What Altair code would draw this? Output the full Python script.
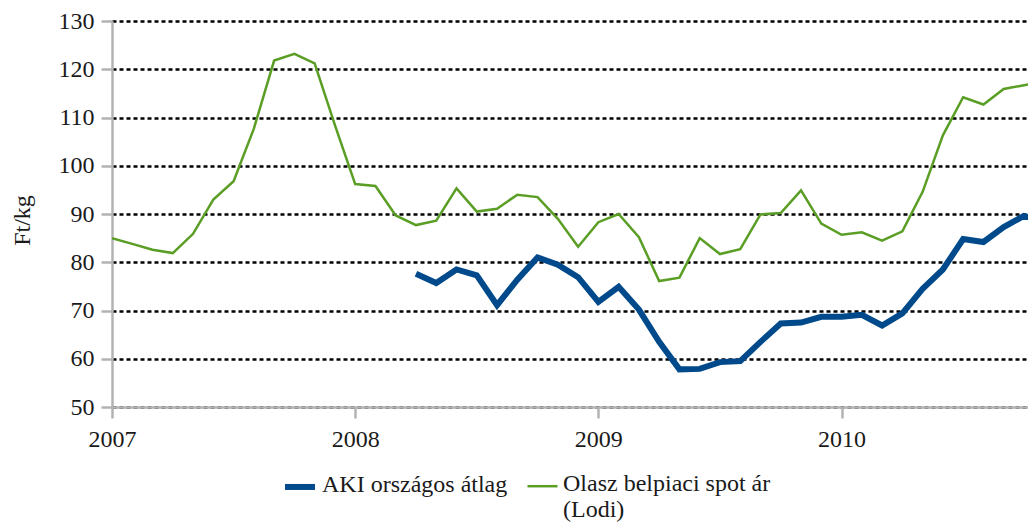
import altair as alt
import pandas as pd

# month index 0 = 2007-01
green_start = 0
green_values = [85.0, 83.8, 82.6, 81.9, 85.9, 93.0, 96.8, 107.7, 121.8, 123.2, 121.2, 108.4,
                96.2, 95.8, 89.7, 87.7, 88.6, 95.3, 90.5, 91.1, 94.0, 93.5, 89.0, 83.2,
                88.3, 90.0, 85.2, 76.1, 76.8, 85.0, 81.7, 82.7, 89.9, 90.2, 94.9, 88.0,
                85.7, 86.2, 84.5, 86.4, 94.6, 106.3, 114.2, 112.7, 115.9, 116.7, 117.3]
blue_start = 15
blue_values = [77.6, 75.7, 78.5, 77.3, 71.1, 76.4, 81.0, 79.5, 76.9,
               71.8, 74.9, 70.2, 63.5, 57.8, 57.9, 59.3, 59.5, 63.5, 67.3, 67.5, 68.7,
               68.7, 69.1, 66.9, 69.4, 74.5, 78.5, 84.8, 84.2, 87.3, 89.6, 88.5]

series_names = ["AKI országos átlag", "Olasz belpiaci spot ár (Lodi)"]
series_colors = ["#004a8b", "#5a9e25"]
series_widths = [6, 2.5]
year_ticks = [0, 12, 24, 36]
y_ticks = [50, 60, 70, 80, 90, 100, 110, 120, 130]

rows = []
for i, v in enumerate(blue_values):
    rows.append({"m": blue_start + i, "v": v, "s": series_names[0]})
for i, v in enumerate(green_values):
    rows.append({"m": green_start + i, "v": v, "s": series_names[1]})
df = pd.DataFrame(rows)

FONT = "Liberation Serif"
TXT = "#1a1a1a"

label_expr = ("datum.label == 'Olasz belpiaci spot ár (Lodi)' "
              "? ['Olasz belpiaci spot ár', '(Lodi)'] : [datum.label, ' ']")

chart = alt.Chart(df).mark_line(clip=True, strokeJoin="miter").encode(
    x=alt.X("m:Q", scale=alt.Scale(domain=[0, 45.2], nice=False, zero=False),
            axis=alt.Axis(values=year_ticks, labelExpr="toString(2007 + datum.value/12)",
                          title=None, grid=False, labelPadding=9, labelFlush=False,
                          labelOverlap=False, labelFont=FONT, labelFontSize=24,
                          labelColor=TXT)),
    y=alt.Y("v:Q", scale=alt.Scale(domain=[50, 130], nice=False, zero=False),
            axis=alt.Axis(values=y_ticks, title="Ft/kg", grid=True, labelPadding=7,
                          labelFont=FONT, labelFontSize=24, labelColor=TXT,
                          titleFont=FONT, titleFontSize=24, titleColor=TXT,
                          titleFontWeight="normal",
                          titleX=-90, titleY=199, titleAngle=270, titleBaseline="middle",
                          titleAlign="center")),
    color=alt.Color("s:N", scale=alt.Scale(domain=series_names, range=series_colors),
                    title=None,
                    legend=alt.Legend(orient="none", legendX=170, legendY=434,
                                      direction="horizontal",
                                      symbolType="M-1,0.93L1,0.93",
                                      symbolSize=900, labelFontSize=24, labelFont=FONT,
                                      labelColor=TXT, columnPadding=14,
                                      labelOffset=4, labelLimit=400,
                                      labelBaseline="top",
                                      labelExpr=label_expr)),
    strokeWidth=alt.StrokeWidth("s:N", scale=alt.Scale(domain=series_names, range=series_widths),
                                title=None),
    order="m:Q",
).properties(
    width=916, height=386,
    autosize=alt.AutoSizeParams(type="none"),
    padding={"left": 104, "top": 13, "right": 0, "bottom": 118},
).configure_view(stroke=None).configure_axis(
    domainColor="#b3b3b3", domainWidth=2.5, tickColor="#b3b3b3", tickWidth=2.5, tickSize=11,
    gridColor="#000000", gridDash=[4, 3], gridWidth=2.5, gridOpacity=1,
)

chart.save("out.html", embed_options={"renderer": "svg", "actions": False})
